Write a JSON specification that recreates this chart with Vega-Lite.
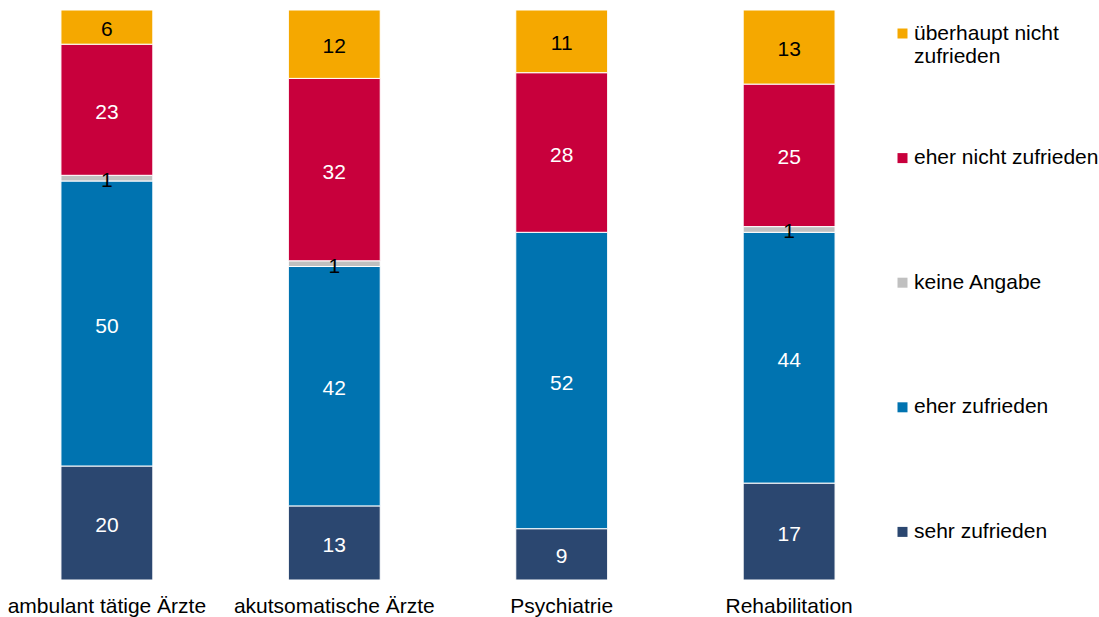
{
  "$schema": "https://vega.github.io/schema/vega-lite/v6.json",
  "width": 886,
  "height": 570,
  "autosize": {"type": "none"},
  "padding": {"left": 5, "top": 10, "right": 208, "bottom": 37},
  "config": {"view": {"stroke": null}, "font": "Liberation Sans"},
  "data": {
    "values": [
      {"gruppe": "ambulant tätige Ärzte", "kategorie": "sehr zufrieden", "wert": 20},
      {"gruppe": "ambulant tätige Ärzte", "kategorie": "eher zufrieden", "wert": 50},
      {"gruppe": "ambulant tätige Ärzte", "kategorie": "keine Angabe", "wert": 1},
      {"gruppe": "ambulant tätige Ärzte", "kategorie": "eher nicht zufrieden", "wert": 23},
      {"gruppe": "ambulant tätige Ärzte", "kategorie": "überhaupt nicht zufrieden", "wert": 6},
      {"gruppe": "akutsomatische Ärzte", "kategorie": "sehr zufrieden", "wert": 13},
      {"gruppe": "akutsomatische Ärzte", "kategorie": "eher zufrieden", "wert": 42},
      {"gruppe": "akutsomatische Ärzte", "kategorie": "keine Angabe", "wert": 1},
      {"gruppe": "akutsomatische Ärzte", "kategorie": "eher nicht zufrieden", "wert": 32},
      {"gruppe": "akutsomatische Ärzte", "kategorie": "überhaupt nicht zufrieden", "wert": 12},
      {"gruppe": "Psychiatrie", "kategorie": "sehr zufrieden", "wert": 9},
      {"gruppe": "Psychiatrie", "kategorie": "eher zufrieden", "wert": 52},
      {"gruppe": "Psychiatrie", "kategorie": "eher nicht zufrieden", "wert": 28},
      {"gruppe": "Psychiatrie", "kategorie": "überhaupt nicht zufrieden", "wert": 11},
      {"gruppe": "Rehabilitation", "kategorie": "sehr zufrieden", "wert": 17},
      {"gruppe": "Rehabilitation", "kategorie": "eher zufrieden", "wert": 44},
      {"gruppe": "Rehabilitation", "kategorie": "keine Angabe", "wert": 1},
      {"gruppe": "Rehabilitation", "kategorie": "eher nicht zufrieden", "wert": 25},
      {"gruppe": "Rehabilitation", "kategorie": "überhaupt nicht zufrieden", "wert": 13}
    ]
  },
  "transform": [
    {"calculate": "indexof(['sehr zufrieden','eher zufrieden','keine Angabe','eher nicht zufrieden','überhaupt nicht zufrieden'], datum.kategorie)", "as": "rang"},
    {"stack": "wert", "groupby": ["gruppe"], "sort": [{"field": "rang", "order": "ascending"}], "as": ["y0", "y1"]},
    {"calculate": "(datum.y0 + datum.y1) / 2", "as": "ymid"}
  ],
  "encoding": {
    "x": {
      "field": "gruppe",
      "type": "nominal",
      "sort": ["ambulant tätige Ärzte", "akutsomatische Ärzte", "Psychiatrie", "Rehabilitation"],
      "scale": {"paddingInner": 0.596, "paddingOuter": 0.246},
      "axis": {"title": null, "domain": false, "ticks": false, "labelAngle": 0, "labelFontSize": 21, "labelColor": "#000000", "labelPadding": 15.5, "labelLimit": 300}
    }
  },
  "layer": [
    {
      "mark": {"type": "bar", "stroke": "#ffffff", "strokeWidth": 1},
      "encoding": {
        "y": {"field": "y0", "type": "quantitative", "scale": {"domain": [0, 100]}, "axis": null},
        "y2": {"field": "y1"},
        "color": {
          "field": "kategorie",
          "type": "nominal",
          "scale": {
            "domain": ["überhaupt nicht zufrieden", "eher nicht zufrieden", "keine Angabe", "eher zufrieden", "sehr zufrieden"],
            "range": ["#F5A800", "#C8003C", "#C0C0C0", "#0073B0", "#2B4770"]
          },
          "legend": {
            "title": null,
            "orient": "none",
            "legendX": 887,
            "legendY": 13,
            "padding": 0,
            "symbolType": "square",
            "symbolSize": 100,
            "symbolStrokeWidth": 0,
            "labelFontSize": 21,
            "labelColor": "#000000",
            "labelOffset": 1,
            "labelLimit": 300,
            "gridAlign": "all",
            "rowPadding": 79.6,
            "labelExpr": "datum.label == 'überhaupt nicht zufrieden' ? ['überhaupt nicht', 'zufrieden'] : datum.label"
          }
        }
      }
    },
    {
      "mark": {"type": "text", "fontSize": 21, "dy": 3},
      "encoding": {
        "y": {"field": "ymid", "type": "quantitative"},
        "text": {"field": "wert", "type": "quantitative"},
        "color": {
          "condition": {"test": "datum.kategorie == 'überhaupt nicht zufrieden' || datum.kategorie == 'keine Angabe'", "value": "#000000"},
          "value": "#ffffff"
        }
      }
    }
  ]
}
